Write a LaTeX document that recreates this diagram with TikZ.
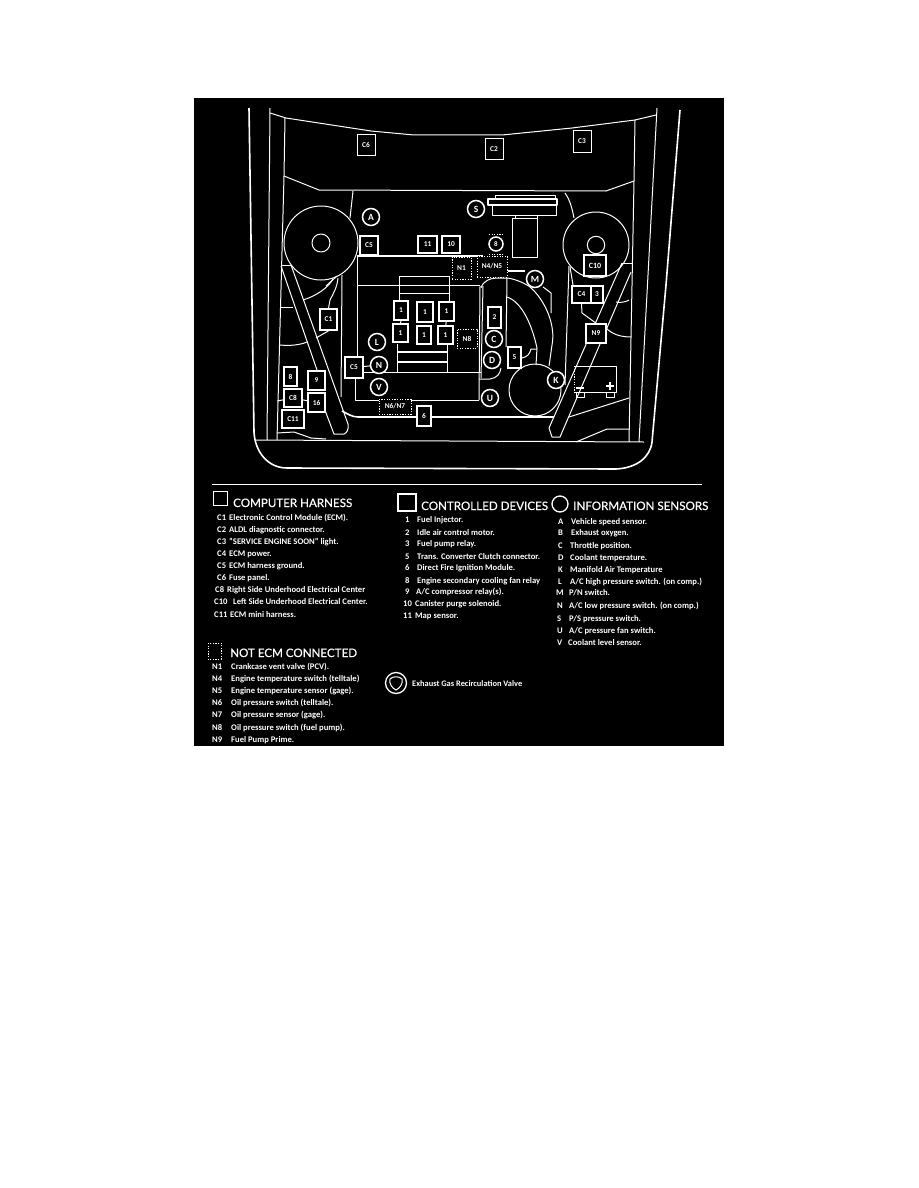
\documentclass[tikz,border=0pt]{standalone}
\usepackage{fontspec}
\setmainfont{Carlito}
\newfontfamily\headfont[FakeBold=0.4]{Lato}
\tikzset{
  wire/.style={draw=white,line width=1pt,line join=round},
  heavy/.style={draw=white,line width=1.6pt,line join=round},
  boxst/.style={draw=white,fill=black,text=white,line width=1pt,inner sep=0pt,font=\fontsize{7.4}{8}\selectfont\bfseries},
  thickbox/.style={line width=1.7pt},
  dotbox/.style={dash pattern=on 1.2pt off 1.4pt,line width=1pt},
  sens/.style={circle,draw=white,fill=black,text=white,line width=1.5pt,minimum size=17pt,inner sep=0pt,font=\fontsize{9.5}{10}\selectfont\bfseries},
  legend/.style={anchor=base west,text=white,inner sep=0pt,font=\fontsize{8.6}{9}\selectfont\bfseries},
  legendhead/.style={anchor=base west,text=white,inner sep=0pt,font=\fontsize{11.6}{12}\selectfont\headfont},
  key/.style={draw=white,line width=1pt}
}
% rectangular component: corners in picture coordinates, then its label
\newcommand\bx[7][]{%
  \pgfmathsetmacro\bcx{(#3+#5)/2}\pgfmathsetmacro\bcy{(#4+#6)/2}%
  \pgfmathsetmacro\bw{#5-#3}\pgfmathsetmacro\bh{#6-#4}%
  \node[boxst,#1,minimum width=\bw pt,minimum height=\bh pt] (#2) at (\bcx,\bcy) {#7};}
% legend line: key at kx, description at tx, vertical middle at y
\newcommand\row[6]{%
  \pgfmathsetmacro\by{#4+2.6}%
  \node[legend] (#1k) at (#2,\by) {#5};
  \node[legend] (#1t) at (#3,\by) {#6};}
\begin{document}
\begin{tikzpicture}[x=1pt,y=-1pt]
\useasboundingbox (0,0) rectangle (918,1188);
\fill[white] (0,0) rectangle (918,1188);
\fill[black] (194,98) rectangle (724,746);

% body outline and fender lines
\draw[heavy] (249,108) -- (254,432) .. controls (255,452) and (268,468) .. (287,468) -- (616,469)
  .. controls (636,468) and (650,458) .. (652,442) -- (666,285) -- (680,110);
\draw[wire] (270,108) -- (267,440);
\draw[wire] (657,108) -- (639,442);
\draw[wire] (256,440) -- (644,442);
\draw[wire] (270,113) -- (286,118) -- (371,131) -- (414,135) -- (502,135) -- (572,128) -- (635,120) -- (656,115);
\draw[wire] (285,118) -- (284,176) -- (277,440);
\draw[wire] (635,120) -- (634,181) -- (629,442);
\draw[wire] (284,176) -- (319,190) -- (606,191) -- (634,181);
\draw[wire] (353,191) -- (350,218);
\draw[wire] (565,193) .. controls (570,200) and (572,208) .. (574,218);

% pulleys
\draw[wire] (321,243) circle (37);
\draw[wire] (321,243) circle (9);
\draw[wire] (596,245) circle (33);
\draw[wire] (596,245) circle (8.7);

% left belt and its surroundings
\draw[wire] (281,265) -- (291,265);
\draw[wire] (281,266) -- (317,370);
\draw[wire] (291,265) -- (348,424) .. controls (349,429) and (347,433) .. (344,434) -- (334,434) -- (326,413) -- (325,410);
\draw[wire] (281,307) -- (293,307);
\draw[wire] (303,300) .. controls (316,296) and (328,288) .. (333,279);
\draw[wire] (280,345) .. controls (290,346) and (300,345) .. (307,342);
\draw[wire] (342,275) -- (341,397);
\draw[wire] (277,433) -- (294,432) -- (311,438) -- (326,439);
\draw[wire] (326,286) -- (337,276);

% engine block
\draw[heavy] (357,256) -- (483,256);
\draw[wire] (357,256) -- (357,360);
\draw[heavy] (357,285.5) -- (480,285.5);
\draw[wire] (480,286) -- (479,400);
\draw[wire] (483,286) -- (481,378);
\draw[wire] (363,372) -- (481,372);
\draw[wire] (355,378) -- (355,400) -- (479,400);
\draw[wire] (399,276) rectangle (449,293);
\draw[wire] (399,293) -- (399,302);
\draw[wire] (449,293) -- (449,302);
\draw[wire] (397,344) -- (397,372);
\draw[wire] (447,344) -- (447,372);
\draw[heavy,line width=2.4pt] (397,352) -- (447,352);
\draw[heavy] (397,362) -- (447,362);

% harness trough at the right of the block
\draw[wire] (481,288) .. controls (483,281) and (490,278) .. (497,278) -- (507,278);
\draw[wire] (507,278) -- (506,347);
\draw[heavy] (508,271) -- (525,271);
\draw[wire] (507,278) .. controls (516,279) and (526,284) .. (530,287);
\draw[wire] (530,287) .. controls (545,300) and (556,325) .. (552,345) -- (549,366);
\draw[wire] (543,287) -- (551,293) -- (551,313);
\draw[wire] (507,297) .. controls (522,302) and (532,325) .. (537,348) -- (536,365);
\draw[wire] (522,358) .. controls (527,357) and (530,354) .. (531,349) -- (537,349);
\draw[wire] (501,368) .. controls (500,374) and (497,378) .. (490,379) -- (479,379);
\draw[wire] (535,390) circle (26);

% right belt and its surroundings
\draw[wire] (622,263) -- (632,263);
\draw[wire] (622,263) -- (549,428) -- (552,437) -- (560,437) -- (631,272);
\draw[wire] (569,266) -- (565,385);
\draw[wire] (570,267) -- (573,285);
\draw[wire] (606,328) .. controls (612,334) and (620,337) .. (631,337);
\draw[wire] (616,302) .. controls (620,303) and (626,302) .. (629,300);
\draw[wire] (569,417) -- (629,398);
\draw[wire] (576,442) -- (607,429) -- (629,429);

% battery
\draw[wire] (574,366) -- (616,366) -- (616,392) -- (574,392);
\draw[wire,dotbox] (574,366) -- (574,392);
\draw[heavy] (576,388) -- (584,388);
\draw[heavy] (606,386) -- (614,386) (610,382) -- (610,390);
\draw[wire] (576,392) rectangle (584,397);
\draw[wire] (606,392) rectangle (614,397);

% harness run along the front
\draw[heavy] (342,411) .. controls (348,414) and (352,417) .. (358,417) -- (417,417);
\draw[heavy] (431,417) -- (554,417);

% S unit and the block below it
\draw[wire] (495,195) rectangle (555,199);
\draw[heavy] (488,199) rectangle (557,205);
\draw[wire] (492,205) rectangle (556,215);
\draw[wire] (515,215) rectangle (537,218);
\draw[wire] (512,218) rectangle (537,257);

% components of the computer harness
\bx{C6}{357}{135}{375}{155}{C6}
\bx{C2}{485}{139}{503}{159}{C2}
\bx{C3}{573}{131}{591}{152}{C3}
\bx[thickbox]{C5a}{360}{236}{378}{255}{C5}
\bx[thickbox]{C5b}{345}{357}{363}{378}{C5}
\bx[thickbox]{C1}{320}{309}{337}{330}{C1}
\bx[thickbox]{C8}{284}{389}{302}{407}{C8}
\bx[thickbox]{C11}{282}{410}{304}{428}{C11}
\bx[thickbox,font=\fontsize{8}{9}\selectfont\bfseries]{C10}{584}{255}{606}{276}{C10}
\bx[thickbox]{C4}{572}{286}{591}{303}{C4}

% controlled devices
\bx[thickbox]{d11}{418}{236}{437}{253}{11}
\bx[thickbox]{d10}{442}{236}{460}{253}{10}
\bx[thickbox]{inja}{394}{301}{408}{320}{1}
\bx[thickbox]{injb}{417}{302}{433}{322}{1}
\bx[thickbox]{injc}{439}{302}{454}{321}{1}
\bx[thickbox]{injd}{393}{324}{408}{342}{1}
\bx[thickbox]{inje}{417}{326}{431}{344}{1}
\bx[thickbox]{injf}{438}{326}{453}{344}{1}
\draw[wire] (inja) -- (injd);
\draw[wire] (injc) -- (injf);
\bx[thickbox]{d2}{488}{307}{501}{328}{2}
\bx[thickbox]{d5}{508}{347}{521}{368}{5}
\bx[thickbox]{d3}{591}{286}{603}{303}{3}
\bx[thickbox]{d6}{417}{406}{431}{426}{6}
\bx[thickbox]{d8}{284}{367}{297}{386}{8}
\bx[thickbox]{d9}{308}{371}{325}{390}{9}
\bx[thickbox]{d16}{308}{393}{325}{412}{16}
\draw[wire] (C8) -- (d16);
\coordinate (c8stub) at (277,401);
\draw[wire] (C8) -- (c8stub);

% devices not wired to the ECM
\bx[dotbox]{N1}{452}{257}{471}{279}{N1}
\bx[dotbox]{N45}{477}{256}{507}{277}{N4/N5}
\bx[dotbox]{N8}{457}{329}{477}{348}{N8}
\bx[dotbox]{N67}{379}{399}{411}{414}{N6/N7}
\bx[thickbox]{N9}{586}{324}{606}{343}{N9}

% information sensors
\node[sens] (sA) at (371,217) {A};
\node[sens] (sS) at (476,209) {S};
\node[sens] (sL) at (377,342) {L};
\node[sens] (sN) at (379,365) {N};
\node[sens] (sV) at (379,387) {V};
\node[sens] (sM) at (535,279) {M};
\node[sens] (sC) at (494,339) {C};
\node[sens] (sD) at (492,360) {D};
\node[sens] (sU) at (490,398) {U};
\node[sens] (sK) at (556,380) {K};
\draw[wire] (C5b) -- (sN);

% EGR valve on the block, with its dotted surround
\node[sens,minimum size=14pt,font=\fontsize{7}{8}\selectfont\bfseries] (egr) at (496,244) {8};
\draw[wire,dotbox] (489,234.5) -- (504,234.5) (489,254) -- (504,254);

% connectors leaving the components
\coordinate (c1up) at (330,300);
\coordinate (c1upb) at (338,278);
\draw[wire] (C1.north) -- (c1up) .. controls (333,294) and (337,288) .. (c1upb);
\coordinate (c1dn) at (316,338);
\draw[wire] (C1.south) -- (c1dn);
\coordinate (c4a) at (582,313);
\draw[wire] (C4.south) -- (c4a) -- (N9.north);

% legend rule
\draw[key] (212,484) -- (702,484);

% legend: computer harness
\draw[key] (213,491) rectangle (227,505);
\node[legendhead] (hCH) at (233,507) {COMPUTER HARNESS};
\row{c1}{217}{229}{518}{C1}{Electronic Control Module (ECM).}
\row{c2}{217}{229}{530}{C2}{ALDL diagnostic connector.}
\row{c3}{217}{229}{542}{C3}{"SERVICE ENGINE SOON" light.}
\row{c4}{217}{229}{554}{C4}{ECM power.}
\row{c5}{217}{229}{566}{C5}{ECM harness ground.}
\row{c6}{217}{229}{578}{C6}{Fuse panel.}
\row{c8}{215}{227}{590}{C8}{Right Side Underhood Electrical Center}
\row{c10}{214}{233}{602}{C10}{Left Side Underhood Electrical Center.}
\row{c11}{214}{230}{615}{C11}{ECM mini harness.}

% legend: controlled devices
\draw[key,line width=1.3pt] (398,494) rectangle (416,511);
\node[legendhead] (hCD) at (421,510) {CONTROLLED DEVICES};
\row{k1}{405}{417}{520}{1}{Fuel Injector.}
\row{k2}{405}{417}{533}{2}{Idle air control motor.}
\row{k3}{405}{417}{544}{3}{Fuel pump relay.}
\row{k5}{405}{417}{557}{5}{Trans. Converter Clutch connector.}
\row{k6}{405}{417}{568}{6}{Direct Fire Ignition Module.}
\row{k8}{405}{417}{581}{8}{Engine secondary cooling fan relay}
\row{k9}{405}{416}{592}{9}{A/C compressor relay(s).}
\row{k10}{403}{415}{604}{10}{Canister purge solenoid.}
\row{k11}{403}{415}{616}{11}{Map sensor.}

% legend: information sensors
\draw[key,line width=1.3pt] (560,504) circle (8);
\node[legendhead] (hIS) at (573,510) {INFORMATION SENSORS};
\row{sa}{558}{571}{522}{A}{Vehicle speed sensor.}
\row{sb}{558}{571}{533}{B}{Exhaust oxygen.}
\row{sc}{558}{570}{546}{C}{Throttle position.}
\row{sd}{558}{570}{558}{D}{Coolant temperature.}
\row{sk}{558}{570}{570}{K}{Manifold Air Temperature}
\row{sl}{558}{570}{582}{L}{A/C high pressure switch. (on comp.)}
\row{sm}{556}{569}{593}{M}{P/N switch.}
\row{sn}{557}{569}{606}{N}{A/C low pressure switch. (on comp.)}
\row{ss}{557}{569}{619}{S}{P/S pressure switch.}
\row{su}{557}{569}{631}{U}{A/C pressure fan switch.}
\row{sv}{557}{568}{643}{V}{Coolant level sensor.}

% legend: not ECM connected
\draw[key,dotbox] (208,643) rectangle (221,659);
\node[legendhead] (hNE) at (230,657) {NOT ECM CONNECTED};
\row{n1}{212}{231}{667}{N1}{Crankcase vent valve (PCV).}
\row{n4}{212}{231}{679}{N4}{Engine temperature switch (telltale)}
\row{n5}{212}{231}{691}{N5}{Engine temperature sensor (gage).}
\row{n6}{212}{231}{703}{N6}{Oil pressure switch (telltale).}
\row{n7}{212}{231}{715}{N7}{Oil pressure sensor (gage).}
\row{n8}{212}{231}{728}{N8}{Oil pressure switch (fuel pump).}
\row{n9}{212}{231}{740}{N9}{Fuel Pump Prime.}

% legend: exhaust gas recirculation valve
\draw[key,line width=1.3pt] (396,683) circle (10.5);
\draw[key] (390,679) .. controls (393,676) and (399,676) .. (402,679)
  .. controls (403,684) and (400,688) .. (396,690) .. controls (392,688) and (389,684) .. (390,679) -- cycle;
\node[legend,font=\fontsize{8.4}{9}\selectfont\bfseries] (egrt) at (412,686) {Exhaust Gas Recirculation Valve};
\end{tikzpicture}
\end{document}
